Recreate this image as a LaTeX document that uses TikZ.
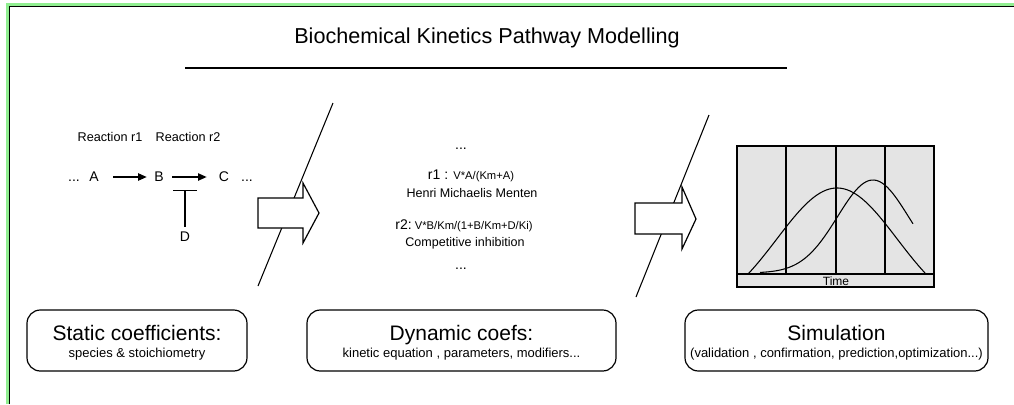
\documentclass[tikz,border=0pt]{standalone}
\usepackage{fontspec}
\setmainfont{Liberation Sans}
\usetikzlibrary{arrows.meta, positioning}
\definecolor{framegreen}{RGB}{144,238,144}
\definecolor{chartgray}{RGB}{228,228,228}
\tikzstyle{species} = [inner sep=0, font=\fontsize{10.5}{12}\selectfont]
\tikzstyle{tag} = [inner sep=0, font=\fontsize{9.5}{11}\selectfont]
\tikzstyle{note} = [inner sep=0, font=\fontsize{9.4}{11}\selectfont]
\tikzstyle{reaction} = [line width=1pt, ->, >={Triangle[length=6.5pt, width=5.5pt]}]
\tikzstyle{inhibit} = [line width=1pt, -{Bar[width=18pt]}]
\tikzstyle{bigarrow} = [draw=black, fill=white, line width=0.9pt]
\tikzstyle{phase} = [rectangle, rounded corners=10pt, draw=black, line width=0.9pt, inner sep=0, minimum height=45.75pt]
\tikzstyle{phasetitle} = [inner sep=0, anchor=base, font=\fontsize{15.75}{18}\selectfont]
\tikzstyle{phasenote} = [inner sep=0, anchor=base, font=\fontsize{9.75}{11}\selectfont]
\newcommand{\rsmall}{\fontsize{8.4}{10}\selectfont}

\begin{document}
\begin{tikzpicture}[x=0.75pt, y=-0.75pt, node distance=48.75pt]
\useasboundingbox (0,0) rectangle (1014,404);
% frame
\draw[framegreen, line width=1.8pt] (7.3,404) -- (7.3,4.5) -- (1014,4.5);
\draw[line width=1pt] (9.3,404) -- (9.3,6.3) -- (1014,6.3);

% title
\node (title) [inner sep=0, anchor=base, font=\fontsize{16.2}{19}\selectfont] at (487,43) {Biochemical Kinetics Pathway Modelling};
\draw[line width=1pt] (185,68) -- (787,68);

% static part
\node (r1tag) [tag, anchor=base] at (110,141) {Reaction r1};
\node (r2tag) [tag, anchor=base] at (188,141) {Reaction r2};
\node (A) [species] at (94,177) {A};
\node (B) [species, right of=A] {B};
\node (C) [species, right of=B] {C};
\node (dotsA) [species, anchor=base] at (74,181) {...};
\node (dotsC) [species, anchor=base] at (247,181) {...};
\node (D) [species] at (185,237) {D};
\coordinate (inh) at (185,190);
\draw [reaction, shorten <=10.7pt, shorten >=5.5pt] (A) -- (B);
\draw [reaction, shorten <=6.2pt, shorten >=9pt] (B) -- (C);
\draw [inhibit, shorten <=3.75pt] (D) -- (inh);

% first step
\draw[line width=0.8pt] (333,103) -- (258,286);
\filldraw[bigarrow] (258,198) -- (303,198) -- (303,183) -- (319,213) -- (303,243) -- (303,228) -- (258,228) -- cycle;

% dynamic part
\node (dots1) [species, anchor=base] at (461,149) {...};
\node (rate1) [inner sep=0, anchor=base, font=\fontsize{10.5}{12}\selectfont] at (471,179) {r1 : {\rsmall V*A/(Km+A)}};
\node (mech1) [note, anchor=base] at (472,197) {Henri Michaelis Menten};
\node (rate2) [inner sep=0, anchor=base, font=\fontsize{10.5}{12}\selectfont] at (464,229) {r2:{\rsmall\ V*B/Km/(1+B/Km+D/Ki)}};
\node (mech2) [note, anchor=base] at (465,246) {Competitive inhibition};
\node (dots2) [species, anchor=base] at (461,269) {...};

% second step
\draw[line width=0.8pt] (709,115) -- (636,297);
\filldraw[bigarrow] (635,203) -- (682,203) -- (682,187) -- (696,219) -- (682,249) -- (682,234) -- (635,234) -- cycle;

% simulation chart
\filldraw[fill=chartgray, line width=1pt] (737,146) rectangle (934,287);
\foreach \x in {786,836,885}
  \draw[line width=1pt] (\x,146) -- (\x,274);
\draw[line width=1pt] (737,274) -- (934,274);
\node (time) [inner sep=0, anchor=base, font=\fontsize{9}{10}\selectfont] at (836,285.5) {Time};
\draw[line width=0.8pt, domain=748:925, samples=60] plot (\x, {273-85*(exp(-1*(\x-837)*(\x-837)/7200)-0.341)/0.659});
\draw[line width=0.8pt, domain=760:913, samples=60] plot (\x, {273-93*exp(-1*(\x-873)*(\x-873)/2512)});

% phase boxes
\node (static) [phase, minimum width=165pt] at (137,340.5) {};
\node (staticT) [phasetitle] at (static.center) {Static coefficients:};
\node (staticN) [phasenote] at ([yshift=-12.4pt]static.center) {species \& stoichiometry};
\node (dynamic) [phase, minimum width=231.75pt] at (461.5,340.5) {};
\node (dynamicT) [phasetitle] at (dynamic.center) {Dynamic coefs:};
\node (dynamicN) [phasenote] at ([yshift=-12.4pt]dynamic.center) {kinetic equation , parameters, modifiers...};
\node (sim) [phase, minimum width=227.25pt] at (836.5,340.5) {};
\node (simT) [phasetitle] at (sim.center) {Simulation};
\node (simN) [phasenote] at ([yshift=-12.4pt]sim.center) {(validation , confirmation, prediction,optimization...)};
\end{tikzpicture}
\end{document}
